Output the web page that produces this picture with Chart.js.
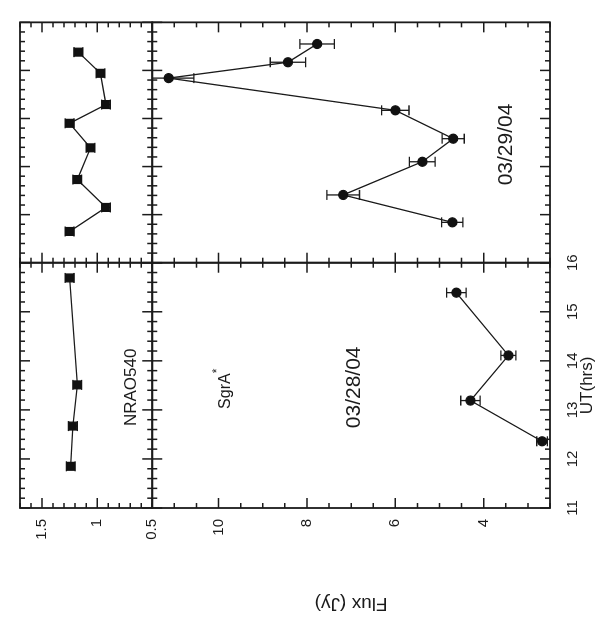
<!DOCTYPE html>
<html lang="en">
<head>
<meta charset="UTF-8">
<title>SgrA* / NRAO540 flux, 03/28/04 and 03/29/04</title>
<script src="https://cdn.jsdelivr.net/npm/chart.js@4"></script>
<style>
  html, body { margin: 0; padding: 0; background: #fff; overflow: hidden; }
  /* the figure is drawn upright and then turned a quarter turn, like the scan */
  #wrap { position: absolute; left: 0; top: 0; width: 621px; height: 598px;
          transform-origin: 0 0; transform: translate(0, 621px) rotate(-90deg); }
</style>
</head>
<body>
<div id="wrap"><canvas id="flux" width="621" height="598"></canvas></div>
<script>
// values: UT (hrs), flux (Jy), flux error (Jy)
const sgrUt28 = [12.36, 13.19, 14.11, 15.39]
const sgrFlux28 = [2.68, 4.30, 3.44, 4.62]
const sgrErr28 = [0.12, 0.22, 0.17, 0.22]

const sgrUt29 = [11.84, 12.41, 13.10, 13.58, 14.17, 14.84, 15.17, 15.55]
const sgrFlux29 = [4.71, 7.18, 5.39, 4.69, 6.00, 11.13, 8.43, 7.77]
const sgrErr29 = [0.24, 0.37, 0.29, 0.25, 0.31, 0.57, 0.40, 0.39]

const nraoUt28 = [11.85, 12.67, 13.51, 15.69]
const nraoFlux28 = [1.24, 1.22, 1.18, 1.25]
const nraoErr28 = [0.04, 0.04, 0.04, 0.04]

const nraoUt29 = [11.65, 12.15, 12.73, 13.39, 13.90, 14.29, 14.94, 15.38]
const nraoFlux29 = [1.25, 0.92, 1.18, 1.06, 1.25, 0.92, 0.97, 1.17]
const nraoErr29 = [0.04, 0.04, 0.04, 0.04, 0.04, 0.04, 0.04, 0.04]

const utTicks = [11, 12, 13, 14, 15, 16]
const sgrTicks = [4, 6, 8, 10]
const nraoTicks = [0.5, 1, 1.5]

const ink = "#1b1b1b"
const family = "'Liberation Sans', Arial, sans-serif"

const points = (xs, ys) => xs.map((x, i) => ({ x, y: ys[i] }))

function series(xAxisID, yAxisID, xs, ys, errs, style) {
  return {
    xAxisID, yAxisID,
    data: points(xs, ys),
    errorBars: errs,
    borderColor: ink,
    borderWidth: 1.3,
    backgroundColor: ink,
    pointBackgroundColor: "#111",
    pointBorderColor: "#111",
    pointStyle: style,
    pointRadius: style === "rect" ? 5.5 : 4.5,
    tension: 0,
  }
}

// tick spacing of the inward ticks on each panel frame
const minorStep = { x28: 0.2, x29: 0.2, yN: 0.1, yS: 0.5 }
const majorStep = { x28: 1, x29: 1, yN: 0.5, yS: 2 }
const panels = [["x28", "yN"], ["x29", "yN"], ["x28", "yS"], ["x29", "yS"]]

function eachTick(scale, fn) {
  const step = minorStep[scale.id]
  const n = Math.round((scale.max - scale.min) / step)
  for (let i = 0; i <= n; i++) {
    const v = scale.min + i * step
    const q = v / majorStep[scale.id]
    fn(scale.getPixelForValue(v), Math.abs(q - Math.round(q)) < 1e-6 ? 10 : 5)
  }
}

const errorBars = {
  id: "errorBars",
  beforeDatasetsDraw(chart) {
    const ctx = chart.ctx
    chart.data.datasets.forEach(ds => {
      const xs = chart.scales[ds.xAxisID]
      const ys = chart.scales[ds.yAxisID]
      ctx.save()
      ctx.beginPath()
      ctx.rect(xs.left, ys.top, xs.right - xs.left, ys.bottom - ys.top)
      ctx.clip()
      ctx.strokeStyle = ink
      ctx.lineWidth = 1.3
      ctx.beginPath()
      ds.data.forEach((p, j) => {
        const px = xs.getPixelForValue(p.x)
        const lo = ys.getPixelForValue(p.y - ds.errorBars[j])
        const hi = ys.getPixelForValue(p.y + ds.errorBars[j])
        ctx.moveTo(px, lo); ctx.lineTo(px, hi)
        ctx.moveTo(px - 5, lo); ctx.lineTo(px + 5, lo)
        ctx.moveTo(px - 5, hi); ctx.lineTo(px + 5, hi)
      })
      ctx.stroke()
      ctx.restore()
    })
  },
}

const frames = {
  id: "frames",
  afterDatasetsDraw(chart) {
    const ctx = chart.ctx
    ctx.save()
    ctx.strokeStyle = ink
    for (const [xi, yi] of panels) {
      const xs = chart.scales[xi]
      const ys = chart.scales[yi]
      ctx.lineWidth = 1.8
      ctx.strokeRect(xs.left, ys.top, xs.right - xs.left, ys.bottom - ys.top)
      ctx.lineWidth = 1.5
      ctx.beginPath()
      eachTick(xs, (px, len) => {
        ctx.moveTo(px, ys.bottom); ctx.lineTo(px, ys.bottom - len)
        ctx.moveTo(px, ys.top); ctx.lineTo(px, ys.top + len)
      })
      eachTick(ys, (py, len) => {
        ctx.moveTo(xs.left, py); ctx.lineTo(xs.left + len, py)
        ctx.moveTo(xs.right, py); ctx.lineTo(xs.right - len, py)
      })
      ctx.stroke()
    }
    ctx.restore()
  },
}

const labels = {
  id: "labels",
  afterDraw(chart) {
    const { ctx, scales } = chart
    ctx.save()
    ctx.fillStyle = ink
    ctx.textBaseline = "alphabetic"
    ctx.textAlign = "center"

    ctx.font = `17px ${family}`
    ctx.fillText("NRAO540", scales.x28.getPixelForValue(13.46), scales.yN.getPixelForValue(0.65))

    ctx.font = `21px ${family}`
    ctx.fillText("03/28/04", scales.x28.getPixelForValue(13.46), scales.yS.getPixelForValue(6.81))
    ctx.fillText("03/29/04", scales.x29.getPixelForValue(13.46), scales.yS.getPixelForValue(3.36))

    ctx.textAlign = "left"
    ctx.font = `16px ${family}`
    const sx = scales.x28.getPixelForValue(13.02)
    const sy = scales.yS.getPixelForValue(9.73)
    const w = ctx.measureText("SgrA").width
    ctx.fillText("SgrA", sx, sy)
    ctx.font = `12px ${family}`
    ctx.fillText("*", sx + w, sy - 9)
    ctx.restore()
  },
}

const tickFont = { family, size: 15 }

new Chart(document.getElementById("flux"), {
  type: "line",
  data: {
    datasets: [
      series("x28", "yS", sgrUt28, sgrFlux28, sgrErr28, "circle"),
      series("x29", "yS", sgrUt29, sgrFlux29, sgrErr29, "circle"),
      series("x28", "yN", nraoUt28, nraoFlux28, nraoErr28, "rect"),
      series("x29", "yN", nraoUt29, nraoFlux29, nraoErr29, "rect"),
    ],
  },
  options: {
    responsive: false,
    animation: false,
    layout: { padding: { top: 13, right: 13, bottom: 0, left: 0 } },
    plugins: { legend: { display: false }, tooltip: { enabled: false } },
    scales: {
      x28: {
        type: "linear", position: "bottom", stack: "ut", stackWeight: 250,
        min: 11, max: 16,
        afterBuildTicks: s => { s.ticks = utTicks.map(value => ({ value })) },
        afterFit: s => { s.height = 48 },
        grid: { display: false, drawTicks: false },
        border: { display: false },
        ticks: { color: ink, font: tickFont, padding: 14, maxRotation: 0, autoSkip: false, callback: v => String(v) },
        title: { display: true, text: "UT(hrs)", color: ink, font: { family, size: 17 }, padding: { top: 0, bottom: 0 } },
      },
      x29: {
        type: "linear", position: "bottom", stack: "ut", stackWeight: 245,
        min: 11, max: 16,
        afterFit: s => { s.height = 48 },
        grid: { display: false, drawTicks: false },
        border: { display: false },
        ticks: { display: false },
      },
      // left-hand boxes are stacked bottom first, so the lower panel comes first
      yS: {
        type: "linear", position: "left", stack: "flux", stackWeight: 403,
        min: 2.5, max: 11.5,
        afterBuildTicks: s => { s.ticks = sgrTicks.map(value => ({ value })) },
        afterFit: s => { s.width = 113 },
        grid: { display: false, drawTicks: false },
        border: { display: false },
        ticks: { color: ink, font: tickFont, padding: 11, autoSkip: false, callback: v => String(v) },
        title: { display: true, text: "Flux (Jy)", color: ink, font: { family, size: 19 }, padding: { top: 6, bottom: 0 } },
      },
      yN: {
        type: "linear", position: "left", stack: "flux", stackWeight: 134,
        min: 0.5, max: 1.7,
        afterBuildTicks: s => { s.ticks = nraoTicks.map(value => ({ value })) },
        afterFit: s => { s.width = 113 },
        grid: { display: false, drawTicks: false },
        border: { display: false },
        ticks: { color: ink, font: tickFont, padding: 11, autoSkip: false, callback: v => String(v) },
      },
    },
  },
  plugins: [errorBars, frames, labels],
})
</script>
</body>
</html>
